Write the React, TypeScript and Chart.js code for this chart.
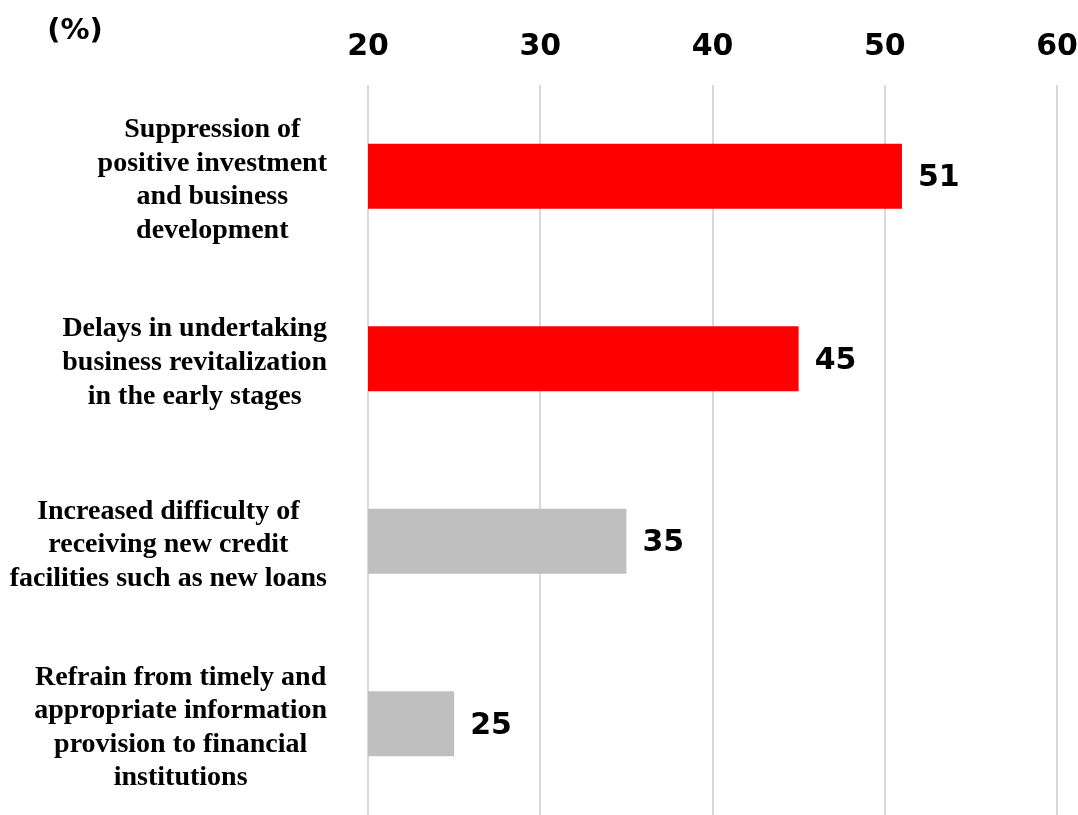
import React, { useEffect, useRef } from "react";
import { Chart, registerables } from "chart.js";

Chart.register(...registerables);

const categories: string[][] = [
  ["Suppression of", "positive investment", "and business", "development"],
  ["Delays in undertaking", "business revitalization", "in the early stages"],
  ["Increased difficulty of", "receiving new credit", "facilities such as new loans"],
  ["Refrain from timely and", "appropriate information", "provision to financial", "institutions"],
];
const values: number[] = [51, 45, 35, 25];
const barColors: string[] = ["#ff0000", "#ff0000", "#bfbfbf", "#bfbfbf"];
const xMin = 20;
const xMax = 60;
const xStep = 10;
const unitLabel = "(%)";

const SANS = "'DejaVu Sans', Verdana, sans-serif";
const SERIF = "'Liberation Serif', 'Times New Roman', serif";

const overlayPlugin = {
  id: "overlay",
  afterDraw(chart: any) {
    const ctx = chart.ctx;
    const area = chart.chartArea;
    const yScale = chart.scales.y;
    ctx.save();
    // unit label
    ctx.fillStyle = "#000";
    ctx.font = `bold 29px ${SANS}`;
    ctx.textAlign = "center";
    ctx.textBaseline = "middle";
    ctx.fillText(unitLabel, 75, 31);

    // category labels (multi-line, centered within block, block right-aligned)
    ctx.font = `bold 28px ${SERIF}`;
    const lineH = 33.6;
    const rightEdge = area.left - 41;
    categories.forEach((lines, i) => {
      const cy = yScale.getPixelForValue(i);
      let maxW = 0;
      lines.forEach((l) => {
        maxW = Math.max(maxW, ctx.measureText(l).width);
      });
      const cx = rightEdge - maxW / 2;
      const startY = cy - ((lines.length - 1) * lineH) / 2 + 4;
      lines.forEach((l, j) => {
        ctx.fillText(l, cx, startY + j * lineH);
      });
    });

    // value labels
    ctx.font = `bold 30px ${SANS}`;
    ctx.textAlign = "left";
    const meta = chart.getDatasetMeta(0);
    meta.data.forEach((bar: any, i: number) => {
      ctx.fillText(String(values[i]), bar.x + 16, bar.y + 2);
    });
    ctx.restore();
  },
};

export default function App() {
  const ref = useRef<HTMLCanvasElement | null>(null);
  useEffect(() => {
    document.body.style.margin = "0";
    const chart = new Chart(ref.current!, {
      type: "bar",
      data: {
        labels: categories.map((c) => c.join(" ")),
        datasets: [
          {
            data: values,
            backgroundColor: barColors,
            borderWidth: 0,
            categoryPercentage: 1,
            barPercentage: 0.356,
          },
        ],
      },
      options: {
        indexAxis: "y",
        animation: false,
        responsive: false,
        maintainAspectRatio: false,
        layout: { padding: { top: 9, right: 21, bottom: 0, left: 0 } },
        plugins: { legend: { display: false }, tooltip: { enabled: false } },
        scales: {
          x: {
            position: "top",
            min: xMin,
            max: xMax,
            ticks: {
              stepSize: xStep,
              padding: 20,
              color: "#000",
              font: { family: SANS, size: 30, weight: "bold" },
            },
            grid: { color: "#d9d9d9", lineWidth: 2, drawTicks: false },
            border: { display: false },
            afterFit(scale: any) {
              scale.paddingRight = 0;
              scale.paddingLeft = 0;
            },
          },
          y: {
            ticks: { display: false },
            grid: { display: false },
            border: { display: false },
            afterFit(scale: any) {
              scale.width = 368;
            },
          },
        },
      },
      plugins: [overlayPlugin],
    });
    return () => chart.destroy();
  }, []);
  return (
    <div style={{ position: "fixed", left: 0, top: 0, width: 1078, height: 815 }}>
      <canvas ref={ref} width={1078} height={815} style={{ display: "block" }} />
    </div>
  );
}
